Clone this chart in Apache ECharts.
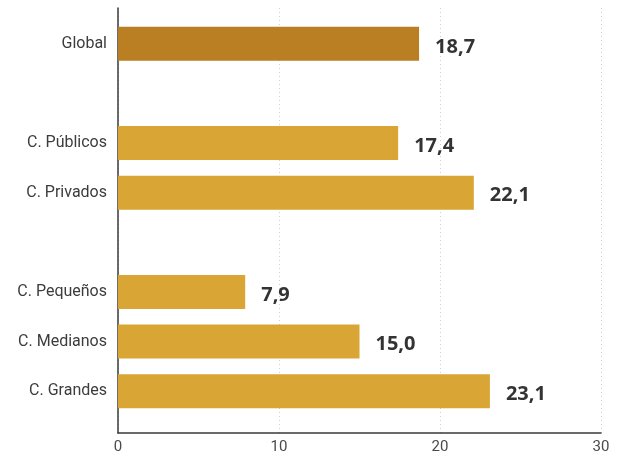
<!DOCTYPE html>
<html>
<head>
<meta charset="utf-8">
<script src="https://cdn.jsdelivr.net/npm/echarts@6/dist/echarts.min.js"></script>
<style>
html,body{margin:0;padding:0;background:#fff;}
#chart{width:622px;height:458px;}
</style>
</head>
<body>
<div id="chart"></div>
<script>
const categories = ['Global', '', 'C. Públicos', 'C. Privados', '', 'C. Pequeños', 'C. Medianos', 'C. Grandes'];
const values = [18.7, null, 17.4, 22.1, null, 7.9, 15.0, 23.1];
const xTicks = [0, 10, 20, 30];
const globalColor = '#B97F22';
const barColor = '#D9A535';

const chart = echarts.init(document.getElementById('chart'));
chart.setOption({
  animation: false,
  backgroundColor: '#ffffff',
  grid: [
    {left: 118, right: 21, top: 19, bottom: 42},
    {left: 118, right: 21, top: 8, bottom: 25}
  ],
  xAxis: [
    {gridIndex: 0, type: 'value', min: xTicks[0], max: xTicks[xTicks.length - 1], interval: 10,
     show: false},
    {gridIndex: 1, type: 'value', min: xTicks[0], max: xTicks[xTicks.length - 1], interval: 10,
     axisLine: {show: true, lineStyle: {color: '#3a3a3a', width: 1.5}},
     axisTick: {show: false},
     axisLabel: {color: '#4a4a4a', fontSize: 15, fontFamily: 'Roboto', margin: 7},
     splitLine: {show: true, lineStyle: {color: '#cfcfcf', type: [1, 3], width: 1}}}
  ],
  yAxis: [
    {gridIndex: 0, type: 'category', data: categories, inverse: true,
     axisLine: {show: false}, axisTick: {show: false},
     axisLabel: {color: '#3c3c3c', fontSize: 16, fontFamily: 'Roboto', margin: 11}},
    {gridIndex: 1, type: 'value', min: 0, max: 1,
     axisLine: {show: true, lineStyle: {color: '#3a3a3a', width: 1.5}},
     axisTick: {show: false}, axisLabel: {show: false}, splitLine: {show: false}}
  ],
  series: [{
    type: 'bar',
    xAxisIndex: 0, yAxisIndex: 0,
    barWidth: 34,
    data: values.map((v, i) => v === null ? null : {
      value: v,
      itemStyle: {color: i === 0 ? globalColor : barColor}
    }),
    label: {
      show: true, position: 'right', distance: 16,
      color: '#333', fontSize: 20, fontWeight: 'bold', fontFamily: 'Open Sans',
      offset: [0, 3],
      formatter: p => p.value.toFixed(1).replace('.', ',')
    }
  }]
});
</script>
</body>
</html>
